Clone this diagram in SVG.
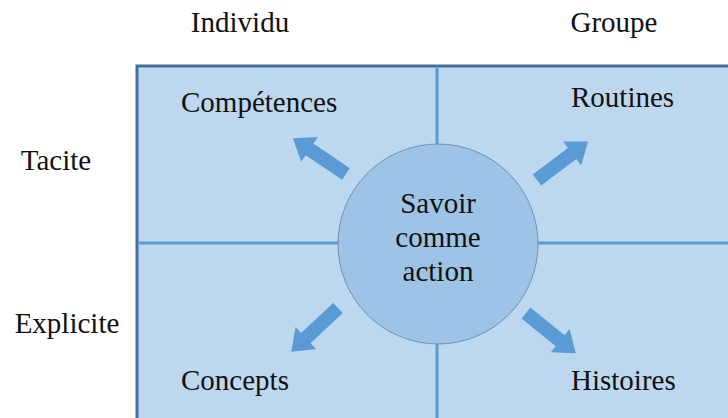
<svg xmlns="http://www.w3.org/2000/svg" width="728" height="418" viewBox="0 0 728 418">
<style>
.t{font-family:'Liberation Serif','Times New Roman',Times,serif;font-size:29px;fill:#111}
.c{text-anchor:middle}
.grid{stroke:#5b9bd5;stroke-width:3}
.arrow{fill:#5b9bd5}
</style>
<defs>
<polygon id="arr" points="0,-7 44,-7 44,-15 64,0 44,15 44,7 0,7"/>
</defs>
<rect width="728" height="418" fill="#ffffff"/>
<g id="grid">
<rect x="137" y="66" width="600" height="360" fill="#bdd7ee" stroke="#41719c" stroke-width="3"/>
<line class="grid" x1="437" y1="68" x2="437" y2="418"/>
<line class="grid" x1="139" y1="243" x2="728" y2="243"/>
</g>
<g id="headers" class="t" font-family="Liberation Serif, serif">
<text x="240" y="32" class="c">Individu</text>
<text x="614" y="32" class="c">Groupe</text>
<text x="56" y="170" class="c">Tacite</text>
<text x="67" y="333" class="c">Explicite</text>
</g>
<g id="connectors">
<use href="#arr" class="arrow" transform="translate(346,174) rotate(214)"/>
<use href="#arr" class="arrow" transform="translate(537,180) rotate(-37)"/>
<use href="#arr" class="arrow" transform="translate(338,308) rotate(137)"/>
<use href="#arr" class="arrow" transform="translate(526,313) rotate(39)"/>
</g>
<g id="center" class="t" font-family="Liberation Serif, serif">
<circle cx="438" cy="244" r="100" fill="#9dc3e6" stroke="#6f93b8" stroke-width="1"/>
<text x="438" y="213" class="c">Savoir</text>
<text x="438" y="247" class="c">comme</text>
<text x="438" y="281" class="c">action</text>
</g>
<g id="competences" class="t"><text x="181" y="112">Compétences</text></g>
<g id="routines" class="t"><text x="571" y="107">Routines</text></g>
<g id="concepts" class="t"><text x="181" y="390">Concepts</text></g>
<g id="histoires" class="t"><text x="571" y="390">Histoires</text></g>
</svg>
